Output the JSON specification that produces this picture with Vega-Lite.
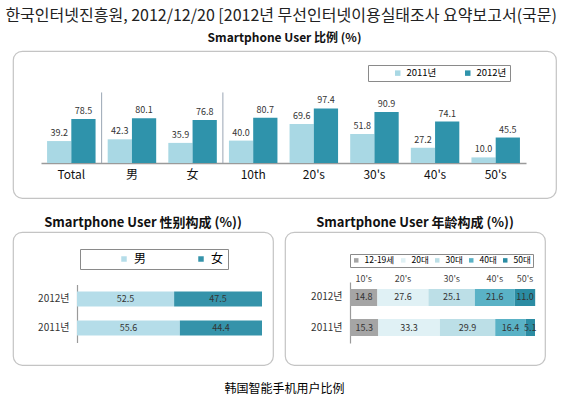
{
  "$schema": "https://vega.github.io/schema/vega-lite/v6.json",
  "background": "white",
  "padding": {"left": 5, "top": 8, "right": 5, "bottom": 5},
  "title": {
    "text": "한국인터넷진흥원, 2012/12/20 [2012년 무선인터넷이용실태조사 요약보고서(국문)",
    "anchor": "start",
    "dx": -7,
    "font": "Noto Sans CJK KR",
    "fontSize": 16,
    "fontWeight": "normal",
    "color": "#222222",
    "offset": 7
  },
  "config": {
    "font": "Noto Sans CJK KR",
    "view": {"stroke": "#c4c4c4", "strokeWidth": 1.2, "cornerRadius": 9},
    "title": {"font": "Noto Sans CJK SC", "fontWeight": "bold", "color": "#111111"},
    "axis": {"labelFont": "Noto Sans CJK KR", "labelColor": "#222222"},
    "legend": {"labelFont": "Noto Sans CJK KR"}
  },
  "resolve": {"scale": {"color": "independent"}, "legend": {"color": "independent"}},
  "spacing": 17,
  "vconcat": [
    {
      "width": 543,
      "height": 147,
      "title": {"text": "Smartphone User 比例 (%)", "fontSize": 12, "offset": 6},
      "layer": [
        {
          "data": {"values": [
            {"cat": "Total", "year": "2011년", "value": 39.2},
            {"cat": "Total", "year": "2012년", "value": 78.5},
            {"cat": "男", "year": "2011년", "value": 42.3},
            {"cat": "男", "year": "2012년", "value": 80.1},
            {"cat": "女", "year": "2011년", "value": 35.9},
            {"cat": "女", "year": "2012년", "value": 76.8},
            {"cat": "10th", "year": "2011년", "value": 40.0},
            {"cat": "10th", "year": "2012년", "value": 80.7},
            {"cat": "20's", "year": "2011년", "value": 69.6},
            {"cat": "20's", "year": "2012년", "value": 97.4},
            {"cat": "30's", "year": "2011년", "value": 51.8},
            {"cat": "30's", "year": "2012년", "value": 90.9},
            {"cat": "40's", "year": "2011년", "value": 27.2},
            {"cat": "40's", "year": "2012년", "value": 74.1},
            {"cat": "50's", "year": "2011년", "value": 10.0},
            {"cat": "50's", "year": "2012년", "value": 45.5}
          ]},
          "layer": [
            {
              "mark": {"type": "bar"},
              "encoding": {
                "x": {
                  "field": "cat", "type": "nominal",
                  "scale": {"domain": ["Total", "男", "女", "10th", "20's", "30's", "40's", "50's"], "range": [28, 513], "paddingInner": 0, "paddingOuter": 0},
                  "axis": {"orient": "bottom", "offset": -35, "title": null, "labelAngle": 0, "ticks": false, "domain": true, "domainColor": "#9a9a9a", "domainWidth": 1.5, "labelFontSize": 12, "labelPadding": 6, "labelColor": "#111111"}
                },
                "xOffset": {"field": "year", "type": "nominal", "scale": {"paddingOuter": 0.25, "paddingInner": 0}},
                "y": {"field": "value", "type": "quantitative", "scale": {"domain": [0, 198], "range": [112, 0]}, "axis": null},
                "color": {
                  "field": "year", "type": "nominal",
                  "scale": {"domain": ["2011년", "2012년"], "range": ["#a9d8e4", "#2f93ab"]},
                  "legend": {"title": null, "orient": "none", "legendX": 355, "legendY": 14, "direction": "horizontal", "strokeColor": "#8a8a8a", "padding": 3, "symbolType": "square", "symbolSize": 30, "symbolOffset": 22, "labelFontSize": 9.5, "columnPadding": 4, "fillColor": "white"}
                }
              }
            },
            {
              "mark": {"type": "text", "dy": -8, "fontSize": 9, "color": "#333333"},
              "encoding": {
                "x": {"field": "cat", "type": "nominal", "scale": {"domain": ["Total", "男", "女", "10th", "20's", "30's", "40's", "50's"]}},
                "xOffset": {"field": "year", "type": "nominal"},
                "y": {"field": "value", "type": "quantitative"},
                "text": {"field": "value", "type": "quantitative", "format": ".1f"}
              }
            }
          ]
        },
        {
          "data": {"values": [{"cat": "男"}, {"cat": "10th"}]},
          "mark": {"type": "rule", "color": "#9aa6b4", "strokeWidth": 1},
          "encoding": {
            "x": {"field": "cat", "type": "nominal", "bandPosition": 0},
            "y": {"datum": 0},
            "y2": {"datum": 126}
          }
        }
      ]
    },
    {
      "spacing": 10,
      "resolve": {"scale": {"color": "independent"}, "legend": {"color": "independent"}},
      "hconcat": [
        {
          "width": 260,
          "height": 133,
          "title": {"text": "Smartphone User 性别构成 (%))", "fontSize": 13, "offset": 2},
          "data": {"values": [
            {"year": "2012년", "sex": "男", "value": 52.5},
            {"year": "2012년", "sex": "女", "value": 47.5},
            {"year": "2011년", "sex": "男", "value": 55.6},
            {"year": "2011년", "sex": "女", "value": 44.4}
          ]},
          "layer": [
            {
              "mark": {"type": "bar"},
              "encoding": {
                "y": {
                  "field": "year", "type": "nominal",
                  "scale": {"domain": ["2012년", "2011년"], "range": [52.5, 110.5], "paddingInner": 0.48, "paddingOuter": 0.24},
                  "axis": {"orient": "left", "offset": -64, "title": null, "ticks": false, "domainColor": "#9a9a9a", "domainWidth": 1.2, "labelFontSize": 10, "labelPadding": 8, "labelColor": "#333333"}
                },
                "x": {"field": "value", "type": "quantitative", "stack": "zero", "scale": {"domain": [0, 100], "range": [64, 249]}, "axis": null},
                "color": {
                  "field": "sex", "type": "nominal",
                  "sort": ["男", "女"],
                  "scale": {"domain": ["男", "女"], "range": ["#b5dde9", "#3593aa"]},
                  "legend": {"title": null, "orient": "none", "legendX": 67, "legendY": 17, "direction": "horizontal", "strokeColor": "#8a8a8a", "padding": 4, "symbolType": "square", "symbolSize": 30, "symbolOffset": 34, "labelFontSize": 12, "columnPadding": 14, "fillColor": "white"}
                },
                "order": {"field": "sex", "sort": "descending"}
              }
            },
            {
              "mark": {"type": "text", "fontSize": 9, "color": "#333333"},
              "encoding": {
                "y": {"field": "year", "type": "nominal"},
                "x": {"field": "value", "type": "quantitative", "stack": "zero", "bandPosition": 0.5},
                "order": {"field": "sex", "sort": "descending"},
                "text": {"field": "value", "type": "quantitative", "format": ".1f"}
              }
            }
          ]
        },
        {
          "width": 260,
          "height": 133,
          "title": {"text": "Smartphone User 年龄构成 (%))", "fontSize": 13, "offset": 2},
          "data": {"values": [
            {"year": "2012년", "age": "12-19세", "short": "10's", "rank": 1, "value": 14.8},
            {"year": "2012년", "age": "20대", "short": "20's", "rank": 2, "value": 27.6},
            {"year": "2012년", "age": "30대", "short": "30's", "rank": 3, "value": 25.1},
            {"year": "2012년", "age": "40대", "short": "40's", "rank": 4, "value": 21.6},
            {"year": "2012년", "age": "50대", "short": "50's", "rank": 5, "value": 11.0},
            {"year": "2011년", "age": "12-19세", "short": "10's", "rank": 1, "value": 15.3},
            {"year": "2011년", "age": "20대", "short": "20's", "rank": 2, "value": 33.3},
            {"year": "2011년", "age": "30대", "short": "30's", "rank": 3, "value": 29.9},
            {"year": "2011년", "age": "40대", "short": "40's", "rank": 4, "value": 16.4},
            {"year": "2011년", "age": "50대", "short": "50's", "rank": 5, "value": 5.1}
          ]},
          "layer": [
            {
              "mark": {"type": "bar"},
              "encoding": {
                "y": {
                  "field": "year", "type": "nominal",
                  "scale": {"domain": ["2012년", "2011년"], "range": [50, 111], "paddingInner": 0.433, "paddingOuter": 0.233},
                  "axis": {"orient": "left", "offset": -65, "title": null, "ticks": false, "domainColor": "#9a9a9a", "domainWidth": 1.2, "labelFontSize": 10, "labelPadding": 8, "labelColor": "#333333"}
                },
                "x": {"field": "value", "type": "quantitative", "stack": "zero", "scale": {"domain": [0, 100], "range": [65, 250]}, "axis": null},
                "color": {
                  "field": "age", "type": "nominal",
                  "scale": {"domain": ["12-19세", "20대", "30대", "40대", "50대"], "range": ["#a5a5a5", "#e0f1f5", "#bcdfe7", "#5ab2c6", "#2b8ca3"]},
                  "legend": {"title": null, "orient": "none", "legendX": 65, "legendY": 22, "direction": "horizontal", "strokeColor": "#8a8a8a", "padding": 2, "symbolType": "square", "symbolSize": 20, "labelFontSize": 8.5, "columnPadding": 4, "symbolOffset": 0, "fillColor": "white"}
                },
                "order": {"field": "rank", "type": "quantitative"}
              }
            },
            {
              "mark": {"type": "text", "fontSize": 9, "color": "#333333"},
              "encoding": {
                "y": {"field": "year", "type": "nominal"},
                "x": {"field": "value", "type": "quantitative", "stack": "zero", "bandPosition": 0.5},
                "order": {"field": "rank", "type": "quantitative"},
                "text": {"field": "value", "type": "quantitative", "format": ".1f"}
              }
            },
            {
              "transform": [{"filter": "datum.year == '2012년'"}],
              "mark": {"type": "text", "fontSize": 9, "color": "#444444", "dy": -18},
              "encoding": {
                "y": {"field": "year", "type": "nominal"},
                "x": {"field": "value", "type": "quantitative", "stack": "zero", "bandPosition": 0.5},
                "order": {"field": "rank", "type": "quantitative"},
                "text": {"field": "short", "type": "nominal"}
              }
            }
          ]
        }
      ]
    },
    {
      "width": 543,
      "height": 10,
      "view": {"stroke": null},
      "data": {"values": [{"caption": "韩国智能手机用户比例"}]},
      "mark": {"type": "text", "font": "Noto Sans CJK SC", "fontSize": 12, "color": "#000000"},
      "encoding": {"text": {"field": "caption", "type": "nominal"}}
    }
  ]
}
